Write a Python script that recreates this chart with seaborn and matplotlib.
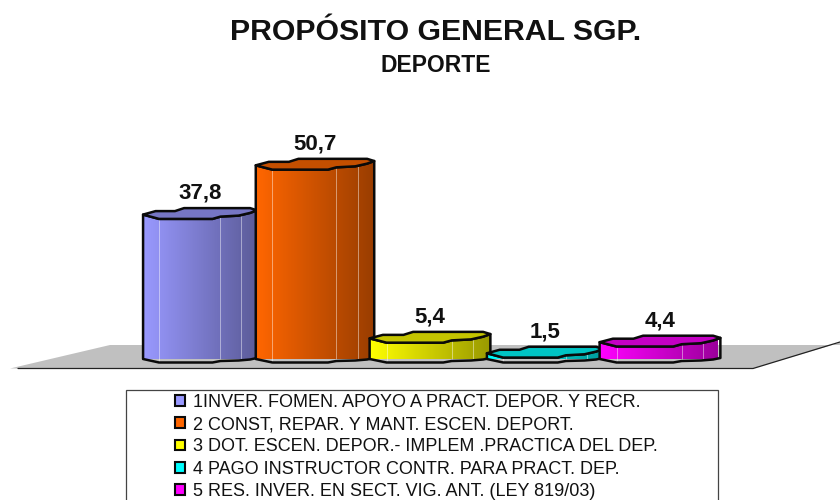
import numpy as np
import pandas as pd
import seaborn as sns
import matplotlib
matplotlib.use('Agg')
import matplotlib.pyplot as plt
from matplotlib.patches import Patch, Polygon, Rectangle

###############
##Data#
###############
rubros = ['1INVER. FOMEN. APOYO A PRACT. DEPOR. Y RECR.',
          '2 CONST, REPAR. Y MANT. ESCEN. DEPORT.',
          '3 DOT. ESCEN. DEPOR.- IMPLEM .PRACTICA DEL DEP.',
          '4 PAGO INSTRUCTOR CONTR. PARA PRACT. DEP.',
          '5 RES. INVER. EN SECT. VIG. ANT. (LEY 819/03)']
valores = [37.8, 50.7, 5.4, 1.5, 4.4]
etiquetas = ['37,8', '50,7', '5,4', '1,5', '4,4']
colores = ['#9999FF', '#FF6600', '#FFFF00', '#00FFFF', '#FF00FF']
anchos = [0.99, 1.03, 1.05, 1.01, 1.05]

###############
##Layout, pixels#
###############
W, H = 840, 500
base_px = 359
px_por_unidad = 3.82
paso_px = 115
izq_px = 142.5

sns.set_theme(style='white')
plt.rcParams['font.family'] = ['Liberation Sans', 'DejaVu Sans']

fig = plt.figure(figsize=(W / 100, H / 100), dpi=100)

# fondo en pixeles: piso gris, titulos y caja de leyenda
bg = fig.add_axes([0, 0, 1, 1])
bg.set_xlim(0, W)
bg.set_ylim(H, 0)
bg.axis('off')
bg.add_patch(Polygon([(10, 368.5), (753, 368.5), (842, 342), (842, 345), (110, 345)],
                     closed=True, facecolor='#C0C0C0', edgecolor='none'))
bg.plot([18, 753, 840], [368.5, 368.5, 342], color='#222222', lw=0.9)
bg.text(436, 32.5, 'PROPÓSITO GENERAL SGP.', ha='center', va='center',
        fontsize=21.8, fontweight='bold', color='#111111')
bg.text(436, 66, 'DEPORTE', ha='center', va='center',
        fontsize=16.5, fontweight='bold', color='#111111')
bg.add_patch(Rectangle((126, 390), 592, 120, facecolor='white',
                       edgecolor='#444444', lw=0.9))

# ejes de las barras
ax = fig.add_axes([izq_px / W, (H - base_px) / H, paso_px * 5 / W, base_px / H])
ax.patch.set_alpha(0)

df = pd.DataFrame({'rubro': rubros, 'valor': valores})
sns.barplot(data=df, x='rubro', y='valor', hue='rubro', palette=colores,
            dodge=False, width=1, legend=False, ax=ax)

# perfil del cilindro facetado (fraccion del ancho, desvio en pixeles)
frente_x = [0, 0.14, 0.61, 0.68, 0.84, 0.94, 1]
frente_y = [0, 4.3, 4.3, 2, 1, -1.7, -4.3]
pie_y = [0, 3.5, 3.5, 2, 1.5, 0.5, -1]
fondo_x = [0, 0.11, 0.28, 0.36, 0.94, 1]
fondo_y = [0, -3.5, -3.5, -6.5, -6.5, -4.3]
facetas = [0.14, 0.68, 0.86]

for i, barra in enumerate(list(ax.patches)[:len(valores)]):
    barra.set_visible(False)
    ancho = anchos[i]
    x0 = i - ancho / 2
    v = valores[i]
    dy = 1 / px_por_unidad

    arriba = [(x0 + f * ancho, v - o * dy) for f, o in zip(frente_x, frente_y)]
    abajo = [(x0 + f * ancho, -o * dy) for f, o in zip(frente_x, pie_y)]
    cuerpo_xy = arriba + abajo[::-1]
    tapa_xy = arriba + [(x0 + f * ancho, v - o * dy) for f, o in zip(fondo_x, fondo_y)][::-1]

    rgb = np.array(matplotlib.colors.to_rgb(colores[i]))
    grad = np.linspace(1, 0.6, 80)[None, :, None] * rgb[None, None, :]
    z = 3 + i * 3

    im = ax.imshow(grad, extent=(x0, x0 + ancho, -6 * dy, v + 8 * dy),
                   aspect='auto', zorder=z, interpolation='bilinear')
    clip = Polygon(cuerpo_xy, closed=True, transform=ax.transData)
    im.set_clip_path(clip)

    for f in facetas:
        k = np.interp(f, frente_x, pie_y)
        t = np.interp(f, frente_x, frente_y)
        ax.plot([x0 + f * ancho] * 2, [-k * dy, v - t * dy], color='white',
                alpha=0.45, lw=0.7, zorder=z + 0.5, clip_on=False)

    ax.add_patch(Polygon(cuerpo_xy, closed=True, facecolor='none', edgecolor='#0A0A0A',
                         lw=1.8, joinstyle='round', zorder=z + 1, clip_on=False))
    ax.add_patch(Polygon(tapa_xy, closed=True, facecolor=rgb * 0.77, edgecolor='#0A0A0A',
                         lw=1.8, joinstyle='round', zorder=z + 2, clip_on=False))
    ax.annotate(etiquetas[i], (i, v), xytext=(0, 8), textcoords='offset points',
                ha='center', va='bottom', fontsize=16, fontweight='bold',
                color='#111111', zorder=40)

ax.set_xlim(-0.5, len(valores) - 0.5)
ax.set_ylim(0, base_px / px_por_unidad)
ax.axis('off')

# leyenda
marcas = [Patch(facecolor=c, edgecolor='#0A0A0A', lw=1.5) for c in colores]
ley = fig.legend(marcas, rubros, loc='upper left', bbox_to_anchor=(171 / W, (H - 390) / H),
                 frameon=False, fontsize=13, handlelength=0.55, handleheight=0.55,
                 handletextpad=0.45, labelspacing=0.3, borderpad=0.2, borderaxespad=0)
for t in ley.get_texts():
    t.set_color('#111111')

fig.savefig('out.png', dpi=100)
